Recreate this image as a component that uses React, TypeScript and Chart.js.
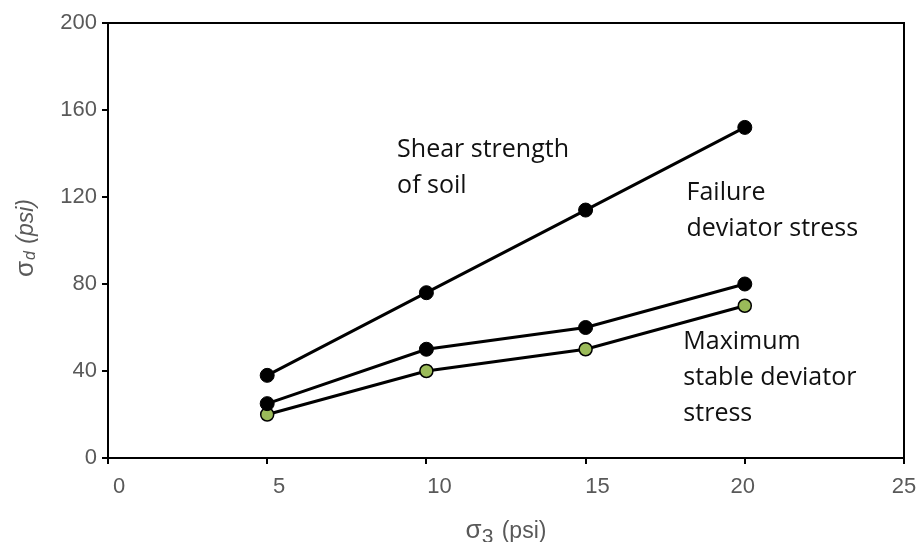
import React, { useEffect, useRef } from "react";
import { Chart, registerables } from "chart.js";

Chart.register(...registerables);

const sigma3 = [5, 10, 15, 20];
const shearStrength = [38, 76, 114, 152];
const failureDeviator = [25, 50, 60, 80];
const maxStableDeviator = [20, 40, 50, 70];

const xTicks = [0, 5, 10, 15, 20, 25];
const yTicks = [0, 40, 80, 120, 160, 200];

// annotation text blocks: anchor (left, first baseline) in data units
const annotationTexts = [
  { lines: ["Shear strength", "of soil"], x: 9.08, y: 138.4 },
  { lines: ["Failure", "deviator stress"], x: 18.17, y: 118.6 },
  { lines: ["Maximum", "stable deviator", "stress"], x: 18.07, y: 50.1 },
];

const TICK_COLOR = "#595959";
const GREEN = "#9bbb59";
const SANS = "'Liberation Sans', Arial, sans-serif";
// horizontal nudges of the x tick labels, as in the reference
const X_LABEL_NUDGE = [11, 12, 13, 12, -2, 0];

const framePlugin = {
  id: "frameAndText",
  afterDraw(chart: any) {
    const { ctx, chartArea, scales } = chart;
    ctx.save();
    // top and right borders
    ctx.strokeStyle = "#000";
    ctx.lineWidth = 2;
    ctx.beginPath();
    ctx.moveTo(chartArea.left - 1, chartArea.top);
    ctx.lineTo(chartArea.right, chartArea.top);
    ctx.lineTo(chartArea.right, chartArea.bottom);
    ctx.stroke();

    // x tick labels
    ctx.fillStyle = TICK_COLOR;
    ctx.font = `22px ${SANS}`;
    ctx.textAlign = "center";
    ctx.textBaseline = "alphabetic";
    xTicks.forEach((v, i) => {
      const px = scales.x.getPixelForValue(v) + X_LABEL_NUDGE[i];
      ctx.fillText(String(v), px, 493);
    });

    // annotations
    ctx.fillStyle = "#111";
    ctx.font = "25px 'Open Sans'";
    ctx.textAlign = "left";
    annotationTexts.forEach((a) => {
      const px = scales.x.getPixelForValue(a.x);
      const py = scales.y.getPixelForValue(a.y);
      a.lines.forEach((ln, i) => ctx.fillText(ln, px, py + i * 36));
    });

    // x axis title: σ3 (psi)
    ctx.fillStyle = TICK_COLOR;
    const cx = 506;
    const base = 538;
    ctx.font = `26px ${SANS}`;
    const wSig = ctx.measureText("σ").width;
    ctx.font = `21px ${SANS}`;
    const wSub = ctx.measureText("3").width;
    ctx.font = `23px ${SANS}`;
    const wRest = ctx.measureText(" (psi)").width + 2;
    let sx = cx - (wSig + wSub + wRest) / 2;
    ctx.font = `26px ${SANS}`;
    ctx.fillText("σ", sx, base);
    sx += wSig;
    ctx.font = `21px ${SANS}`;
    ctx.fillText("3", sx, base + 5);
    sx += wSub + 2;
    ctx.font = `23px ${SANS}`;
    ctx.fillText(" (psi)", sx, base);

    // y axis title: σd (psi), rotated
    ctx.translate(33, 238);
    ctx.rotate(-Math.PI / 2);
    ctx.font = `26px ${SANS}`;
    const ySig = ctx.measureText("σ").width;
    ctx.font = `italic 16px ${SANS}`;
    const ySub = ctx.measureText("d").width;
    ctx.font = `italic 23px ${SANS}`;
    const yRest = ctx.measureText(" (psi)").width;
    let tx = -(ySig + ySub + yRest + 2) / 2;
    ctx.font = `26px ${SANS}`;
    ctx.fillText("σ", tx, 0);
    tx += ySig;
    ctx.font = `italic 16px ${SANS}`;
    ctx.fillText("d", tx + 1, 2);
    tx += ySub + 2;
    ctx.font = `italic 23px ${SANS}`;
    ctx.fillText(" (psi)", tx, 0);
    ctx.restore();
  },
};

export default function App() {
  const ref = useRef<HTMLCanvasElement | null>(null);

  useEffect(() => {
    document.body.style.margin = "0";
    document.body.style.overflow = "hidden";
    if (!ref.current) return;
    const mk = (vals: number[]) => sigma3.map((x, i) => ({ x, y: vals[i] }));
    const line = (label: string, vals: number[], fill: string, r: number, bw: number) => ({
      label,
      data: mk(vals),
      borderColor: "#000",
      backgroundColor: fill,
      pointBackgroundColor: fill,
      pointBorderColor: "#000",
      borderWidth: 3,
      pointRadius: r,
      pointBorderWidth: bw,
    });
    const chart = new Chart(ref.current, {
      type: "line",
      data: {
        datasets: [
          line("Shear strength of soil", shearStrength, "#000", 7, 1),
          line("Failure deviator stress", failureDeviator, "#000", 7, 1),
          line("Maximum stable deviator stress", maxStableDeviator, GREEN, 6.5, 1.5),
        ],
      },
      options: {
        animation: false,
        responsive: false,
        maintainAspectRatio: false,
        layout: { padding: { left: 0, right: 17, top: 23, bottom: 0 } },
        plugins: {
          legend: { display: false },
          tooltip: { enabled: false },
        },
        scales: {
          x: {
            type: "linear",
            min: 0,
            max: 25,
            afterBuildTicks: (s: any) => {
              s.ticks = xTicks.map((v) => ({ value: v }));
            },
            afterFit: (s: any) => {
              s.height = 84;
              s.paddingLeft = 0;
              s.paddingRight = 0;
            },
            border: { display: true, color: "#000", width: 2 },
            grid: {
              display: true,
              drawOnChartArea: false,
              drawTicks: true,
              tickLength: 6,
              color: "#000",
              lineWidth: 2,
            },
            ticks: { display: false },
          },
          y: {
            type: "linear",
            min: 0,
            max: 200,
            afterBuildTicks: (s: any) => {
              s.ticks = yTicks.map((v) => ({ value: v }));
            },
            afterFit: (s: any) => {
              s.width = 108;
              s.paddingTop = 0;
              s.paddingBottom = 0;
            },
            border: { display: true, color: "#000", width: 2 },
            grid: {
              display: true,
              drawOnChartArea: false,
              drawTicks: true,
              tickLength: 6,
              color: "#000",
              lineWidth: 2,
            },
            ticks: {
              color: TICK_COLOR,
              font: { family: SANS, size: 22 },
              padding: 5,
            },
          },
        },
      },
      plugins: [framePlugin],
    });
    return () => chart.destroy();
  }, []);

  return (
    <div style={{ width: 921, height: 542 }}>
      <canvas ref={ref} width={921} height={542} style={{ display: "block" }} />
    </div>
  );
}
